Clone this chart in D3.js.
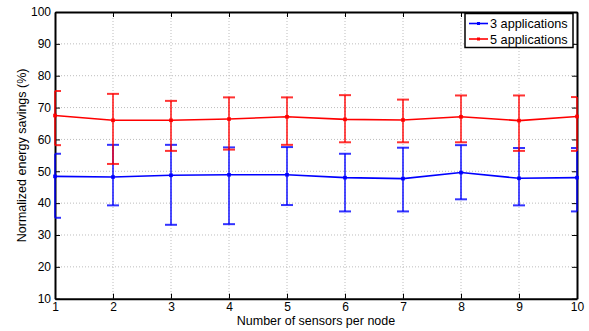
<!DOCTYPE html>
<html><head><meta charset="utf-8">
<script src="https://cdn.jsdelivr.net/npm/d3@7"></script>
<style>body{margin:0;background:#fff}svg{display:block}text{font-family:"Liberation Sans",Arial,sans-serif}</style>
</head><body><svg id="c" width="589" height="331"></svg>
<script>
const sensors = [1,2,3,4,5,6,7,8,9,10];
const app3Mean = [48.4,48.2,48.75,48.9,48.9,48.0,47.7,49.6,47.8,48.0];
const app3Upper = [55.5,58.3,58.3,57.5,57.6,55.5,57.4,58.2,57.3,57.3];
const app3Lower = [35.4,39.3,33.2,33.4,39.4,37.4,37.4,41.2,39.3,37.4];
const app5Mean = [67.5,66.0,66.0,66.4,67.1,66.3,66.1,67.1,65.9,67.2];
const app5Upper = [75.2,74.3,72.1,73.2,73.2,73.9,72.5,73.8,73.8,73.3];
const app5Lower = [58.2,52.3,56.4,56.8,58.3,59.1,59.1,59.1,56.4,56.4];
const yTicks = [10,20,30,40,50,60,70,80,90,100];
const seriesNames = ["3 applications","5 applications"];
const seriesColors = ["#0000ff","#ff0000"];

const svg = d3.select("#c");
const L=55,R=577,T=12,B=298.7;
const x = d3.scaleLinear().domain([1,10]).range([L,R]);
const y = d3.scaleLinear().domain([10,100]).range([B,T]);

// grid
const g = svg.append("g");
g.selectAll(".gx").data(sensors.slice(1,-1)).enter().append("line")
 .attr("x1",d=>x(d)).attr("x2",d=>x(d)).attr("y1",T).attr("y2",B)
 .attr("stroke","#bdbdbd").attr("stroke-width",1).attr("stroke-dasharray","1,2");
g.selectAll(".gy").data(yTicks.slice(1,-1)).enter().append("line")
 .attr("x1",L).attr("x2",R).attr("y1",d=>y(d)).attr("y2",d=>y(d))
 .attr("stroke","#bdbdbd").attr("stroke-width",1).attr("stroke-dasharray","1,2");

// axes
const xa = svg.append("g").attr("transform",`translate(0,${B})`)
 .call(d3.axisBottom(x).tickValues(sensors).tickFormat(d3.format("d")).tickSizeInner(-5).tickSizeOuter(0).tickPadding(4));
const xt = svg.append("g").attr("transform",`translate(0,${T})`)
 .call(d3.axisTop(x).tickValues(sensors).tickFormat("").tickSizeInner(-5).tickSizeOuter(0));
const ya = svg.append("g").attr("transform",`translate(${L},0)`)
 .call(d3.axisLeft(y).tickValues(yTicks).tickFormat(d3.format("d")).tickSizeInner(-5).tickSizeOuter(0).tickPadding(4));
const yr = svg.append("g").attr("transform",`translate(${R},0)`)
 .call(d3.axisRight(y).tickValues(yTicks).tickFormat("").tickSizeInner(-5).tickSizeOuter(0));
[xa,xt,ya,yr].forEach(a=>{
  a.selectAll("path").attr("stroke","#000").attr("stroke-width",2);
  a.selectAll("line").attr("stroke","#000").attr("stroke-width",1);
  a.selectAll("text").attr("font-size",12).attr("fill","#000").attr("font-family","Liberation Sans, Arial, sans-serif");
});

// series
const series = [
 {mean:app3Mean, up:app3Upper, lo:app3Lower, color:seriesColors[0]},
 {mean:app5Mean, up:app5Upper, lo:app5Lower, color:seriesColors[1]}
];
const line = d3.line().x((d,i)=>x(sensors[i])).y(d=>y(d));
series.forEach(s=>{
  const sg = svg.append("g");
  sensors.forEach((v,i)=>{
    const cx=x(v);
    sg.append("line").attr("x1",cx).attr("x2",cx).attr("y1",y(s.up[i])).attr("y2",y(s.lo[i]))
      .attr("stroke",s.color).attr("stroke-width",2).attr("stroke-opacity",0.7);
    [s.up[i],s.lo[i]].forEach(val=>{
      const x1=Math.max(L,cx-6), x2=Math.min(R,cx+6);
      sg.append("line").attr("x1",x1).attr("x2",x2).attr("y1",y(val)).attr("y2",y(val))
        .attr("stroke",s.color).attr("stroke-width",2).attr("stroke-opacity",0.8);
    });
  });
  sg.append("path").datum(s.mean).attr("d",line).attr("fill","none")
    .attr("stroke",s.color).attr("stroke-width",1.6);
  sg.selectAll("rect").data(s.mean).enter().append("rect")
    .attr("x",(d,i)=>x(sensors[i])-1.8).attr("y",d=>y(d)-1.8).attr("width",3.6).attr("height",3.6)
    .attr("fill",s.color);
});

// labels
svg.append("text").attr("x",(L+R)/2).attr("y",325).attr("text-anchor","middle")
 .attr("font-size",12.5).text("Number of sensors per node");
svg.append("text").attr("transform",`translate(25.5,${(T+B)/2}) rotate(-90)`).attr("text-anchor","middle")
 .attr("font-size",12.5).text("Normalized energy savings (%)");

// legend
const lg = svg.append("g");
lg.append("rect").attr("x",465).attr("y",13.5).attr("width",108).attr("height",34)
 .attr("fill","#fff").attr("stroke","#000").attr("stroke-width",1.5);
seriesNames.forEach((n,i)=>{
  const yy = 23.5 + i*15.5;
  lg.append("line").attr("x1",469).attr("x2",488).attr("y1",yy).attr("y2",yy)
    .attr("stroke",seriesColors[i]).attr("stroke-width",1.6);
  lg.append("rect").attr("x",478.5-1.5).attr("y",yy-1.5).attr("width",3).attr("height",3).attr("fill",seriesColors[i]);
  lg.append("text").attr("x",490).attr("y",yy+4.5).attr("font-size",12.7).text(n);
});
</script></body></html>
